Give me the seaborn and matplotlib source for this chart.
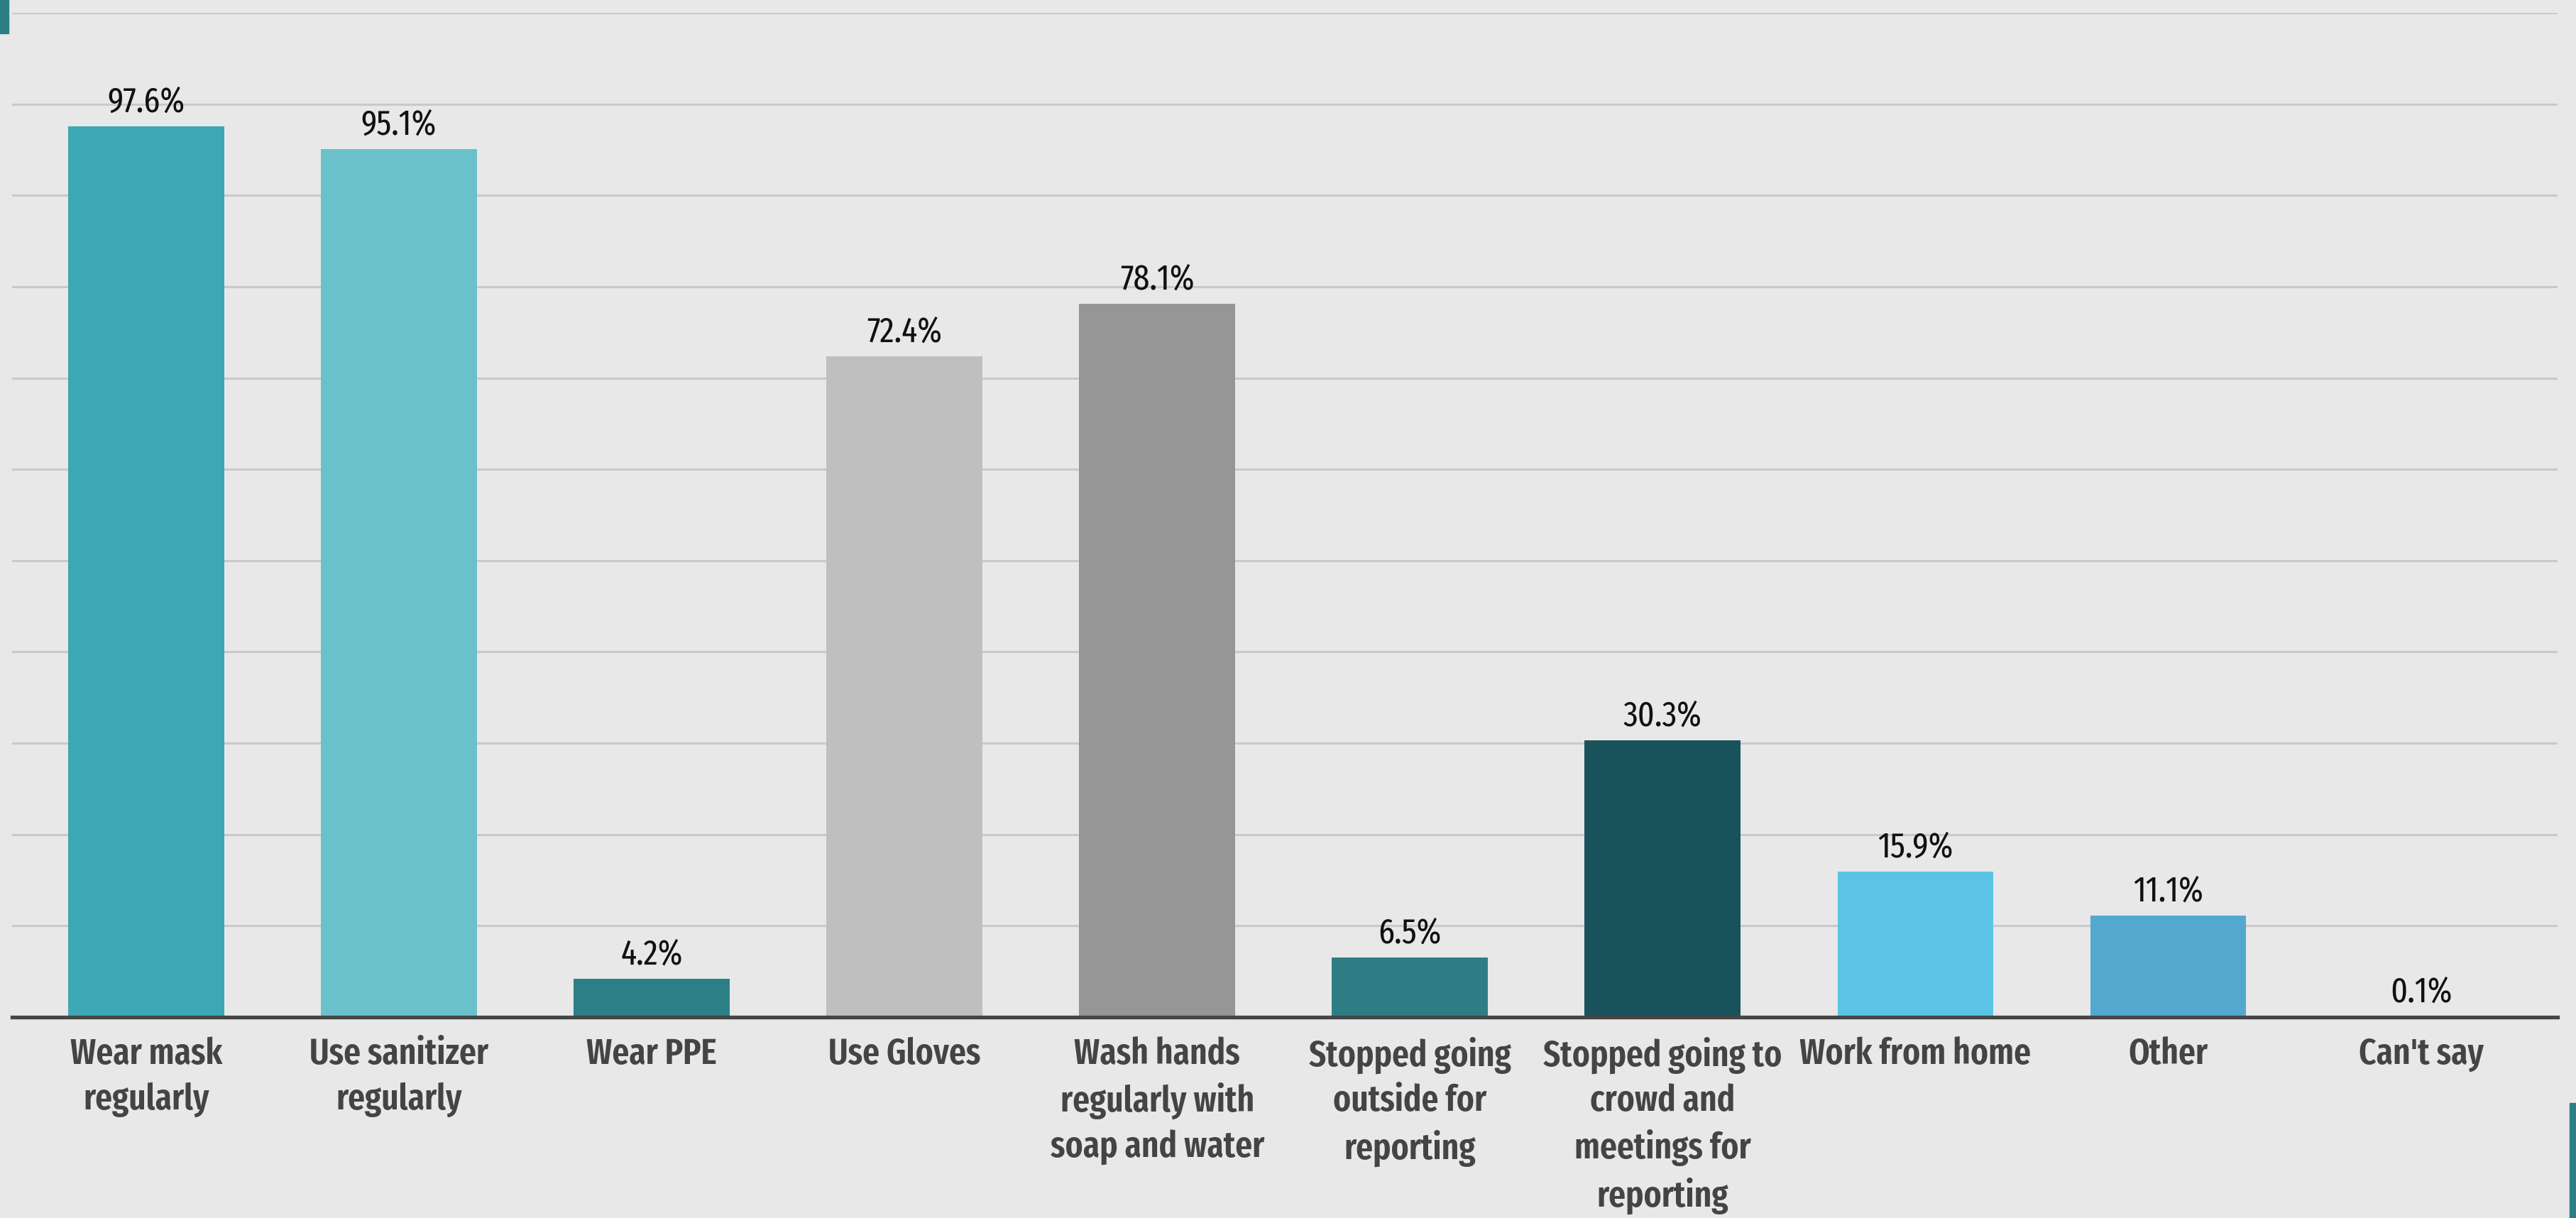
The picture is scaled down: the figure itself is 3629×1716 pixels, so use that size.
import matplotlib
matplotlib.use("Agg")
import matplotlib.pyplot as plt
import pandas as pd
import seaborn as sns

categories = ["Wear mask\nregularly", "Use sanitizer\nregularly", "Wear PPE", "Use Gloves",
              "Wash hands\nregularly with\nsoap and water", "Stopped going\noutside for\nreporting",
              "Stopped going to\ncrowd and\nmeetings for\nreporting", "Work from home", "Other", "Can't say"]
values = [97.6, 95.1, 4.2, 72.4, 78.1, 6.5, 30.3, 15.9, 11.1, 0.1]
colors = ["#3ca7b5", "#6bc1cb", "#2c7f86", "#bfbfbf", "#969696",
          "#2e7d85", "#1a525c", "#5bc4e6", "#53a8cf", "#3ca7b5"]

bg = "#e7e8e7"
sns.set_theme(style="white")
plt.rcParams["font.family"] = ["Fira Sans Extra Condensed", "DejaVu Sans"]

df = pd.DataFrame({"cat": categories, "val": values})

fig = plt.figure(figsize=(36.29, 17.16), dpi=100, facecolor=bg)
ax = fig.add_axes([0.0047, 0.165, 0.9881, 0.8245])
ax.set_facecolor(bg)

sns.barplot(data=df, x="cat", y="val", hue="cat", palette=colors, legend=False,
            width=0.617, saturation=1, linewidth=0, ax=ax, zorder=3)

ax.set_ylim(0, 110)
ax.set_xlim(-0.53, 9.54)
ax.set_yticks(range(10, 111, 10))
ax.set_yticklabels([])
ax.yaxis.grid(True, color="#c9c9c9", linewidth=2.2, zorder=0)
ax.set_axisbelow(True)
for s in ["top", "right", "left"]:
    ax.spines[s].set_visible(False)
ax.spines["bottom"].set_color("#454545")
ax.spines["bottom"].set_linewidth(3.8)
ax.spines["bottom"].set_zorder(4)
ax.set_xlabel("")
ax.set_ylabel("")
ax.tick_params(axis="x", length=0, pad=20, labelsize=37, labelcolor="#444444")
ax.tick_params(axis="y", length=0)
for lab in ax.get_xticklabels():
    lab.set_fontweight(600)
    lab.set_linespacing(1.37)

for i, v in enumerate(values):
    ax.annotate(f"{v}%", (i, v), xytext=(0, 7), textcoords="offset points",
                ha="center", va="bottom", fontsize=36, color="#111111")

# small accent marks in the corners
fig.patches.append(plt.Rectangle((0, 1 - 47 / 1716), 12 / 3629, 47 / 1716,
                                 transform=fig.transFigure, color="#2c7d86", zorder=5))
fig.patches.append(plt.Rectangle((3620 / 3629, 0), 9 / 3629, 162 / 1716,
                                 transform=fig.transFigure, color="#2c7d86", zorder=5))

fig.savefig("out.png", dpi=100, facecolor=bg)
